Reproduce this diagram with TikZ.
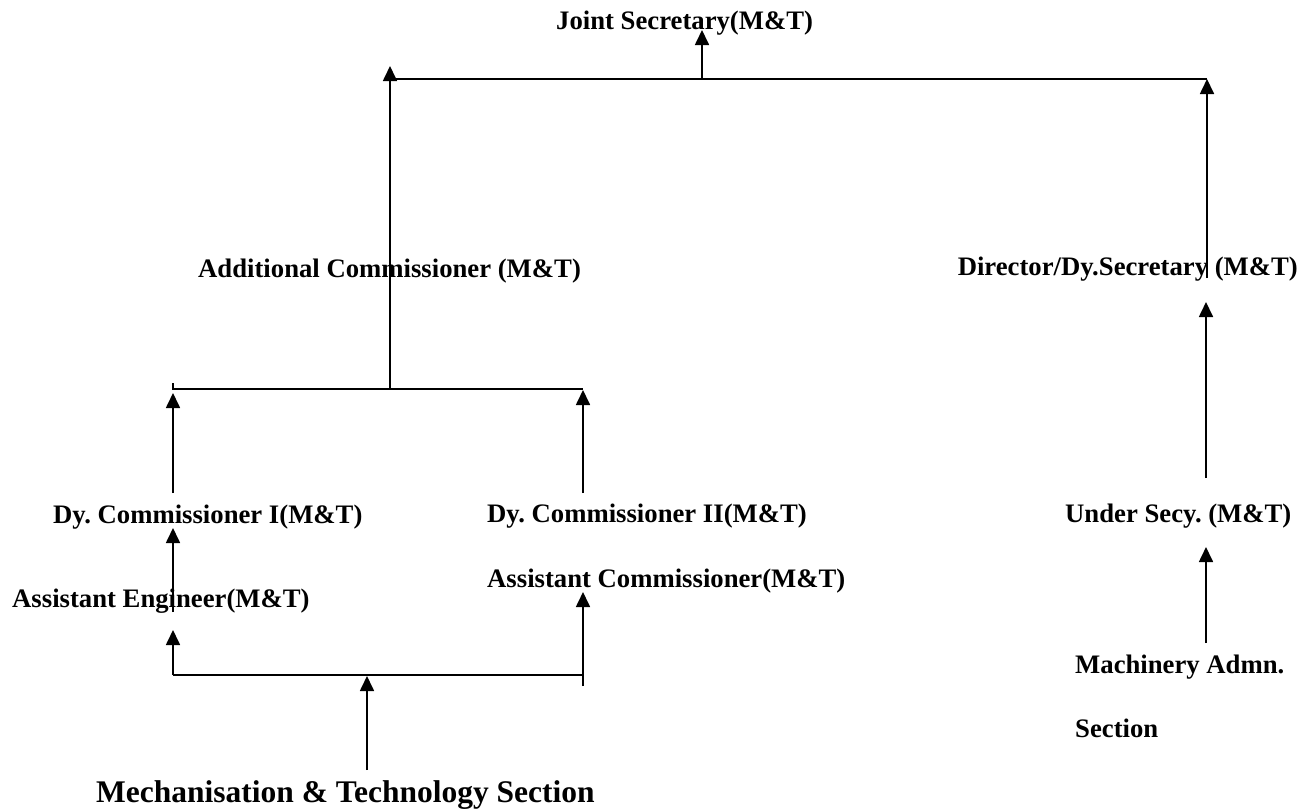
\documentclass[tikz,border=0pt]{standalone}
\usepackage{fontspec}
\setmainfont{Liberation Serif}
\usetikzlibrary{arrows.meta}
\frenchspacing
\tikzset{
  lbl/.style={inner sep=0pt, anchor=base west, font=\fontsize{26.7}{30}\selectfont\bfseries},
  conn/.style={line width=1.7pt},
  up/.style={conn, -{Triangle[length=15pt,width=14pt]}}
}
\begin{document}
\begin{tikzpicture}[x=1pt,y=-1pt]
\useasboundingbox (0,0) rectangle (1306,809);
% labels
\node[lbl] (js) at (556,29) {Joint Secretary(M\&T)};
\node[lbl] (ac) at (198,277) {Additional Commissioner (M\&T)};
\node[lbl,anchor=base east] (dir) at (1298,275) {Director/Dy.Secretary (M\&T)};
\node[lbl] (dc1) at (53,523) {Dy. Commissioner I(M\&T)};
\node[lbl] (dc2) at (487,522) {Dy. Commissioner II(M\&T)};
\node[lbl] (asc) at (487,587) {Assistant Commissioner(M\&T)};
\node[lbl] (ae) at (12,607) {Assistant Engineer(M\&T)};
\node[lbl] (us) at (1065,522) {Under Secy. (M\&T)};
\node[lbl] (mad) at (1075,673) {Machinery Admn.};
\node[lbl] (sec) at (1075,737) {Section};
\node[lbl,font=\fontsize{31.5}{36}\selectfont\bfseries] (mts) at (96,802) {Mechanisation \& Technology Section};
% coordinates
\coordinate (t1) at (702,79);
\coordinate (t1e) at (702,30);
\coordinate (tl) at (390,79);
\coordinate (tle) at (390,66);
\coordinate (tr) at (1207,79);
\coordinate (tr2) at (1207,278);
\coordinate (m) at (390,389);
\coordinate (ml) at (173,389);
\coordinate (mlt) at (173,383);
\coordinate (mr) at (583,389);
\coordinate (a1s) at (173,493);
\coordinate (a1e) at (173,393);
\coordinate (a2s) at (583,493);
\coordinate (a2e) at (583,390);
\coordinate (b1s) at (173,612);
\coordinate (b1e) at (173,528);
\coordinate (bl) at (173,675);
\coordinate (br) at (583,675);
\coordinate (bre) at (583,686);
\coordinate (b2e) at (583,592);
\coordinate (b3e) at (173,630);
\coordinate (bm) at (367,770);
\coordinate (bme) at (367,676);
\coordinate (r1s) at (1206,478);
\coordinate (r1e) at (1206,302);
\coordinate (r2s) at (1206,643);
\coordinate (r2e) at (1206,547);
% connectors
\draw[conn] (tl) -- (tr);
\draw[up] (t1) -- (t1e);
\draw[up] (m) -- (tle);
\draw[up] (tr2) -- (tr);
\draw[conn] (mlt) -- (ml) -- (mr);
\draw[up] (a1s) -- (a1e);
\draw[up] (a2s) -- (a2e);
\draw[up] (b1s) -- (b1e);
\draw[up] (bl) -- (b3e);
\draw[conn] (bl) -- (br);
\draw[up] (bre) -- (b2e);
\draw[up] (bm) -- (bme);
\draw[up] (r1s) -- (r1e);
\draw[up] (r2s) -- (r2e);
\end{tikzpicture}
\end{document}
